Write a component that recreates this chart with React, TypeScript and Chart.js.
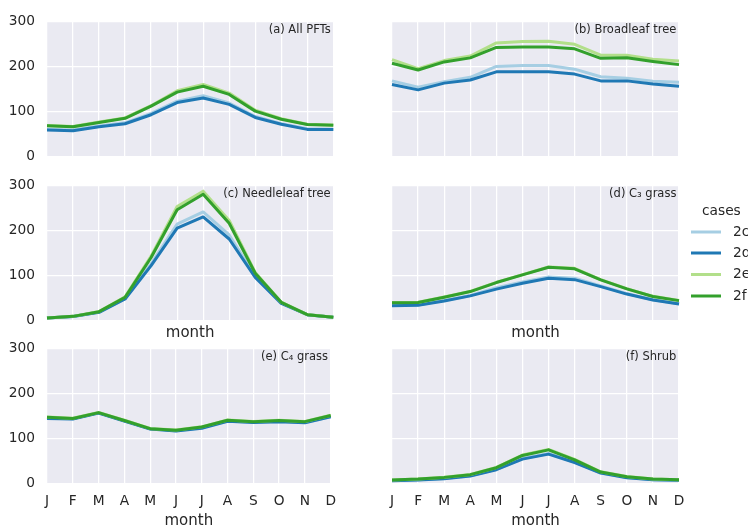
import React, { useEffect, useRef } from 'react';
import { Chart, registerables } from 'chart.js';

Chart.register(...registerables);

// ---------- data ----------
const MONTHS = ['J', 'F', 'M', 'A', 'M', 'J', 'J', 'A', 'S', 'O', 'N', 'D'];
const CASES = ['2c', '2d', '2e', '2f'];
const COLORS = ['#a6cee3', '#1f78b4', '#b2df8a', '#33a02c'];
const Y_TICKS = [0, 100, 200, 300];

const allPfts2c = [61, 59, 68, 75, 96, 123, 135, 119, 89, 73, 62, 61];
const allPfts2d = [59, 57.5, 66.5, 73, 93, 120, 130, 116, 87, 72, 60.5, 60];
const allPfts2e = [69, 67, 77, 86, 113, 146, 160, 141, 103, 84, 72, 70];
const allPfts2f = [68.5, 66.5, 76, 85, 112, 143, 156, 138, 101, 83, 71.5, 69.5];

const broadleaf2c = [168, 154, 166, 176, 200, 202, 202, 194, 177, 174, 167, 165];
const broadleaf2d = [160, 148, 163, 170, 188, 188, 188, 183, 168, 168, 161, 156];
const broadleaf2e = [215, 195, 213, 223, 252, 255, 256, 249, 225, 225, 216, 212];
const broadleaf2f = [207, 192, 210, 219, 242, 243, 243, 239, 218, 219, 211, 204];

const needleleaf2c = [6, 9.5, 19, 49, 126, 214, 241, 190, 99, 40, 13.3, 7.4];
const needleleaf2d = [6, 9.5, 18.5, 48, 122, 205, 230, 181, 96, 38.5, 13.3, 7.4];
const needleleaf2e = [6, 9.6, 20.5, 53, 143, 253, 287, 222, 107, 41, 13.5, 7.4];
const needleleaf2f = [6, 9.6, 20, 52, 140, 246, 280, 216, 105, 40.7, 13.3, 7.4];

const c3grass2c = [34, 35, 45, 56, 73, 86, 97, 94, 77, 60, 46.5, 37.5];
const c3grass2d = [33, 34, 43.5, 55, 70, 83, 94, 91, 75.5, 59, 46, 37];
const c3grass2e = [40.5, 41, 52.5, 65, 85, 102, 119, 116, 91, 71, 54, 45];
const c3grass2f = [40, 40.5, 52, 64.5, 84.5, 101.5, 118.5, 115, 90.5, 70.5, 53.5, 44.5];

const c4grass2c = [145, 144, 157, 139, 121.5, 117.5, 124, 139, 136, 138, 135.5, 149];
const c4grass2d = [144.5, 143.5, 156.5, 138.5, 121, 117, 123, 138.5, 135.5, 137.5, 135, 148];
const c4grass2e = [148, 145, 158, 140.5, 122.5, 119, 126, 141, 138, 140.5, 138, 151.5];
const c4grass2f = [147.5, 144.5, 157.5, 140, 122, 118.5, 125.5, 140.5, 137.5, 140, 137.5, 151];

const shrub2c = [7, 8.5, 11.5, 17.5, 32, 56, 67, 48, 24, 13.5, 9, 7.5];
const shrub2d = [6.5, 8, 11, 17, 31, 54.5, 65.5, 47, 23.5, 13.3, 8.8, 7.4];
const shrub2e = [8.2, 10.5, 14.2, 20.5, 36, 63.5, 76, 54, 26.5, 15.8, 10.5, 9];
const shrub2f = [8, 10.3, 14, 20, 35.4, 62.6, 75, 53, 25.8, 15.5, 10.3, 8.8];

// ---------- layout ----------
const FONT = '"DejaVu Sans", "Liberation Sans", sans-serif';
const TEXT = '#262626';
const BG = '#EAEAF2';
const TOP_PAD = 21.3;
const PLOT_H = 135.4;
const Y_AXIS_W = 47;
const LINE_W = 3;
const COL_CANVAS = [
  { left: 0, width: 345, rightPad: 11.7 },
  { left: 345, width: 403, rightPad: 69 },
];
const ROW_CANVAS = [
  { top: 0, height: 177 },
  { top: 164, height: 177 },
  { top: 327, height: 202 },
];

type PanelDef = {
  title: string;
  series: number[][];
  row: number;
  col: number;
  legend?: boolean;
};

const PANELS: PanelDef[] = [
  { title: '(a) All PFTs', series: [allPfts2c, allPfts2d, allPfts2e, allPfts2f], row: 0, col: 0 },
  { title: '(b) Broadleaf tree', series: [broadleaf2c, broadleaf2d, broadleaf2e, broadleaf2f], row: 0, col: 1 },
  { title: '(c) Needleleaf tree', series: [needleleaf2c, needleleaf2d, needleleaf2e, needleleaf2f], row: 1, col: 0 },
  { title: '(d) C\u2083 grass', series: [c3grass2c, c3grass2d, c3grass2e, c3grass2f], row: 1, col: 1, legend: true },
  { title: '(e) C\u2084 grass', series: [c4grass2c, c4grass2d, c4grass2e, c4grass2f], row: 2, col: 0 },
  { title: '(f) Shrub', series: [shrub2c, shrub2d, shrub2e, shrub2f], row: 2, col: 1 },
];

const bgPlugin = {
  id: 'bgFill',
  beforeDraw(chart: any) {
    const { ctx, chartArea } = chart;
    ctx.save();
    ctx.fillStyle = BG;
    ctx.fillRect(chartArea.left, chartArea.top, chartArea.right - chartArea.left, chartArea.bottom - chartArea.top);
    ctx.restore();
  },
};

function makeLabelPlugin(text: string) {
  return {
    id: 'panelLabel',
    afterDraw(chart: any) {
      const { ctx, chartArea } = chart;
      ctx.save();
      ctx.font = `11.5px ${FONT}`;
      ctx.fillStyle = TEXT;
      ctx.textAlign = 'right';
      ctx.textBaseline = 'middle';
      ctx.fillText(text, chartArea.right - 2.6, chartArea.top + 9);
      ctx.restore();
    },
  };
}

function makeLegendPlugin(offsetX: number, offsetY: number) {
  return {
    id: 'casesLegend',
    afterDraw(chart: any) {
      const { ctx } = chart;
      ctx.save();
      ctx.font = `13.75px ${FONT}`;
      ctx.fillStyle = TEXT;
      ctx.textAlign = 'left';
      ctx.textBaseline = 'middle';
      ctx.fillText('cases', 702 - offsetX, 211 - offsetY);
      const ys = [232, 253, 274.5, 296];
      chart.data.datasets.forEach((ds: any, i: number) => {
        const y = ys[i] - offsetY;
        ctx.strokeStyle = ds.borderColor;
        ctx.lineWidth = LINE_W;
        ctx.beginPath();
        ctx.moveTo(691 - offsetX, y);
        ctx.lineTo(721 - offsetX, y);
        ctx.stroke();
        ctx.fillStyle = TEXT;
        ctx.fillText(ds.label, 733 - offsetX, y);
      });
      ctx.restore();
    },
  };
}

function Panel({ def }: { def: PanelDef }) {
  const ref = useRef<HTMLCanvasElement>(null);
  const colC = COL_CANVAS[def.col];
  const rowC = ROW_CANVAS[def.row];
  const xAxisH = rowC.height - TOP_PAD - PLOT_H;

  useEffect(() => {
    const canvas = ref.current;
    if (!canvas) return;
    const plugins: any[] = [bgPlugin, makeLabelPlugin(def.title)];
    if (def.legend) plugins.push(makeLegendPlugin(colC.left, rowC.top));
    const chart = new Chart(canvas, {
      type: 'line',
      data: {
        labels: MONTHS,
        datasets: CASES.map((c, i) => ({
          label: c,
          data: def.series[i],
          borderColor: COLORS[i],
          backgroundColor: COLORS[i],
          borderWidth: LINE_W,
          pointRadius: 0,
          pointHoverRadius: 0,
          tension: 0,
          fill: false,
          order: 4 - i,
          borderJoinStyle: 'round',
          borderCapStyle: 'butt',
        })),
      },
      options: {
        animation: false,
        responsive: false,
        devicePixelRatio: 1,
        events: [],
        layout: { padding: { top: TOP_PAD, right: colC.rightPad, left: 0, bottom: 0 } },
        plugins: { legend: { display: false }, tooltip: { enabled: false } },
        scales: {
          x: {
            type: 'category',
            offset: false,
            grid: { color: '#ffffff', lineWidth: 1.25, drawTicks: false },
            border: { display: false },
            ticks: {
              display: def.row === 2,
              padding: 9,
              color: TEXT,
              font: { family: FONT, size: 13.75 },
              maxRotation: 0,
              autoSkip: false,
            },
            title: {
              display: def.row > 0,
              text: 'month',
              color: TEXT,
              font: { family: FONT, size: 15, lineHeight: 1 },
              padding: 0,
            },
            afterFit: (s: any) => {
              s.height = xAxisH;
            },
          },
          y: {
            min: 0,
            max: 300,
            afterBuildTicks: (s: any) => {
              s.ticks = Y_TICKS.map((v) => ({ value: v }));
            },
            grid: { color: '#ffffff', lineWidth: 1.25, drawTicks: false },
            border: { display: false },
            ticks: {
              display: def.col === 0,
              padding: 12,
              color: TEXT,
              font: { family: FONT, size: 13.75 },
            },
            afterFit: (s: any) => {
              s.width = Y_AXIS_W;
            },
          },
        },
      } as any,
      plugins,
    });
    return () => chart.destroy();
  }, []);

  return (
    <canvas
      ref={ref}
      width={colC.width}
      height={rowC.height}
      style={{ position: 'absolute', left: colC.left, top: rowC.top, width: colC.width, height: rowC.height }}
    />
  );
}

export default function App() {
  return (
    <div style={{ position: 'absolute', left: 0, top: 0, width: 748, height: 527, background: '#ffffff', overflow: 'hidden' }}>
      {PANELS.map((p, i) => (
        <Panel key={i} def={p} />
      ))}
    </div>
  );
}
